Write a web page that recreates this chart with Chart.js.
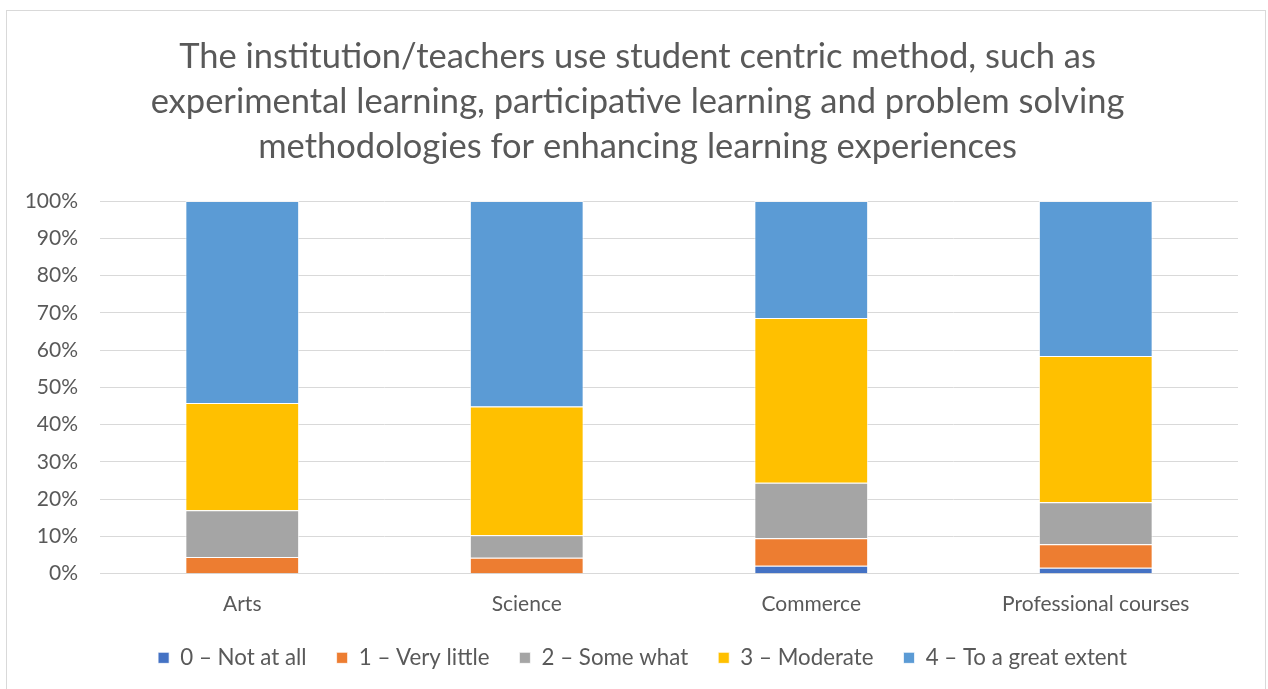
<!DOCTYPE html>
<html lang="en">
<head>
  <meta charset="utf-8"/>
  <title>Student centric methods</title>
  <script src="https://cdn.jsdelivr.net/npm/chart.js"></script>
  <style>
    body{margin:0;background:#fff;width:1268px;height:689px;overflow:hidden;position:relative}
    .frame{position:absolute;left:6px;top:10px;width:1260px;height:700px;border:1px solid #d9d9d9;box-sizing:border-box}
    .chart-box{position:absolute;left:0;top:0;width:1268px;height:689px}
  </style>
</head>
<body>
<div class="frame"></div>
<div class="chart-box"><canvas id="stackChart" width="1268" height="689"></canvas></div>

<script>
const categories=['Arts','Science','Commerce','Professional courses'];
const seriesNames=['0 – Not at all','1 – Very little','2 – Some what','3 – Moderate','4 – To a great extent'];
const notAtAll=[0,0,2.1,1.6];
const veryLittle=[4.5,4.3,7.4,6.3];
const someWhat=[12.5,6.0,14.9,11.3];
const moderate=[28.8,34.6,44.2,39.2];
const greatExtent=[54.2,55.1,31.4,41.6];
const seriesColors=['#4472C4','#ED7D31','#A5A5A5','#FFC000','#5B9BD5'];
const titleLines=['The institution/teachers use student centric method, such as','experimental learning, participative learning and problem solving','methodologies for enhancing learning experiences'];

const txt='#595959';
const fam='Lato, "Open Sans", sans-serif';

const datasets=[notAtAll,veryLittle,someWhat,moderate,greatExtent].map((d,i)=>({
  label:seriesNames[i],
  data:d,
  backgroundColor:seriesColors[i],
  borderColor:'rgba(255,255,255,0.7)',
  borderWidth:1,
  barPercentage:0.4,
  categoryPercentage:1
}));

// title and legend sit a little right of centre in the original
const shiftBoxes={
  id:'shiftBoxes',
  afterLayout(chart){
    if(chart.legend){chart.legend.left+=20;chart.legend.right+=20;}
    if(chart.titleBlock){chart.titleBlock.left+=15;chart.titleBlock.right+=15;}
  }
};

new Chart(document.getElementById('stackChart'),{
  type:'bar',
  data:{labels:categories,datasets},
  plugins:[shiftBoxes],
  options:{
    responsive:false,
    animation:false,
    layout:{padding:{left:7,right:30,top:10,bottom:10}},
    scales:{
      x:{
        stacked:true,
        grid:{display:false,drawTicks:false},
        border:{color:'#d9d9d9'},
        afterFit:s=>{s.height=43;},
        ticks:{color:txt,font:{family:fam,size:21},padding:18}
      },
      y:{
        stacked:true,
        min:0,max:100,
        grid:{color:'#d9d9d9',drawTicks:false},
        border:{display:false},
        afterFit:s=>{s.width=93;},
        ticks:{stepSize:10,color:txt,font:{family:fam,size:21},padding:22,callback:v=>v+'%'}
      }
    },
    plugins:{
      title:{display:true,text:titleLines,color:txt,font:{family:fam,size:34.5,weight:'normal',lineHeight:1.3},padding:{top:24.5,bottom:32}},
      legend:{position:'bottom',labels:{boxWidth:11,boxHeight:11,padding:30,color:txt,font:{family:fam,size:22.3}}},
      tooltip:{enabled:false}
    }
  }
});
</script>
</body>
</html>
